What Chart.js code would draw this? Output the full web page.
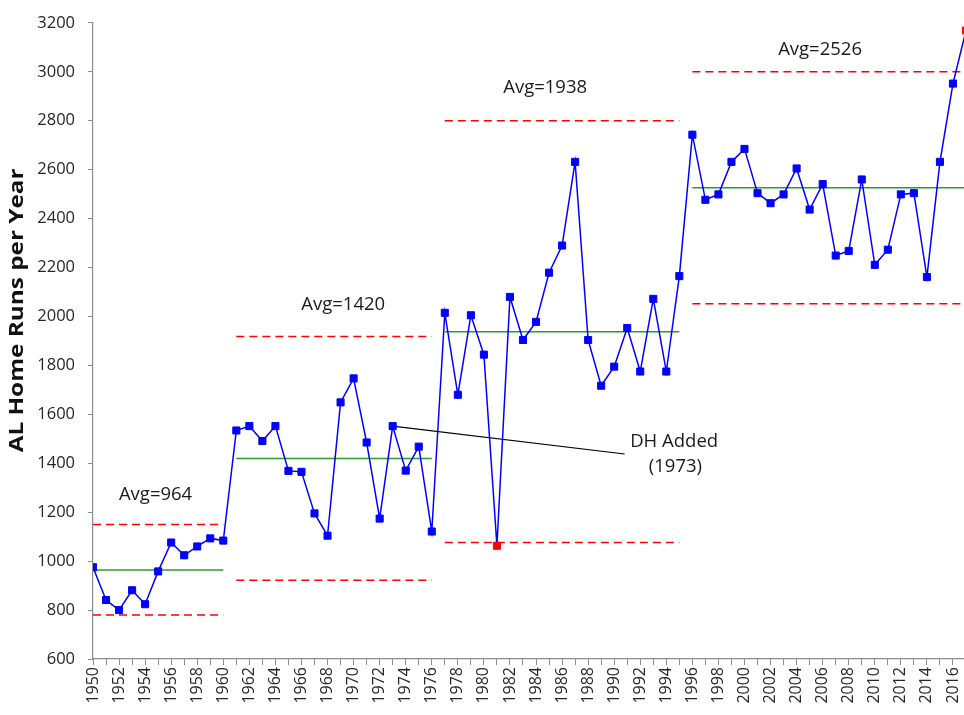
<!DOCTYPE html>
<html>
<head>
<meta charset="utf-8">
<title>AL Home Runs per Year</title>
<script src="https://cdn.jsdelivr.net/npm/chart.js@4.4.0/dist/chart.umd.min.js"></script>
<style>
  html, body { margin: 0; padding: 0; overflow: hidden; background: #fff; }
  #hrChart { display: block; }
</style>
</head>
<body>
<canvas id="hrChart" width="980" height="715"></canvas>
<script>
// years on the x axis
const years = [
  1950, 1951, 1952, 1953, 1954, 1955, 1956, 1957, 1958, 1959,
  1960, 1961, 1962, 1963, 1964, 1965, 1966, 1967, 1968, 1969,
  1970, 1971, 1972, 1973, 1974, 1975, 1976, 1977, 1978, 1979,
  1980, 1981, 1982, 1983, 1984, 1985, 1986, 1987, 1988, 1989,
  1990, 1991, 1992, 1993, 1994, 1995, 1996, 1997, 1998, 1999,
  2000, 2001, 2002, 2003, 2004, 2005, 2006, 2007, 2008, 2009,
  2010, 2011, 2012, 2013, 2014, 2015, 2016, 2017
];

// AL home runs, one per year
const homeRuns = [
  975, 841, 800, 881, 824, 958, 1076, 1024, 1060, 1093,
  1084, 1534, 1552, 1491, 1552, 1369, 1365, 1195, 1104, 1649,
  1747, 1485, 1174, 1552, 1370, 1468, 1121, 2015, 1680, 2005,
  1844, 1063, 2080, 1904, 1978, 2179, 2290, 2632, 1904, 1717,
  1795, 1953, 1775, 2072, 1775, 2165, 2743, 2477, 2499, 2632,
  2685, 2504, 2463, 2499, 2605, 2437, 2541, 2249, 2268, 2560,
  2211, 2273, 2499, 2504, 2161, 2632, 2952, 3169
];

// control chart segments
const segStart = [1950, 1961, 1977, 1996];
const segEnd   = [1960, 1976, 1995, 2017];
const segAvg   = [964, 1420, 1938, 2526];
const segUcl   = [1150, 1918, 2800, 3000];
const segLcl   = [780, 922, 1076, 2052];

const yTicks = [600, 800, 1000, 1200, 1400, 1600, 1800, 2000, 2200, 2400, 2600, 2800, 3000, 3200];
const yTitle = 'AL Home Runs per Year';

// text labels (placed in data units)
const avgLabels     = ['Avg=964', 'Avg=1420', 'Avg=1938', 'Avg=2526'];
const avgLabelYear  = [1954.8, 1969.2, 1984.7, 2005.8];
const avgLabelValue = [1273, 2049, 2933, 3090];
const noteLines     = ['DH Added', '(1973)'];
const noteYear      = [1994.6, 1994.7];
const noteValue     = [1487, 1386];
const noteFromYear  = 1973;
const noteToYear    = 1990.8;
const noteToValue   = 1438;

const FONT = '"Open Sans", "DejaVu Sans", sans-serif';

function segmentOf(year) {
  for (let i = 0; i < segStart.length; i++) {
    if (year >= segStart[i] && year <= segEnd[i]) return i;
  }
  return 0;
}

const pointColors = years.map((yr, i) => {
  const s = segmentOf(yr);
  const v = homeRuns[i];
  return (v > segUcl[s] || v < segLcl[s]) ? '#FF0000' : '#0000FF';
});

const limitSets = [];
segStart.forEach((start, i) => {
  const end = segEnd[i];
  limitSets.push({
    data: [{ x: start, y: segAvg[i] }, { x: end, y: segAvg[i] }],
    borderColor: '#2e9a2e', borderWidth: 1.5, pointRadius: 0, order: 3
  });
  [segUcl[i], segLcl[i]].forEach(v => {
    limitSets.push({
      data: [{ x: start, y: v }, { x: end, y: v }],
      borderColor: '#FF0000', borderWidth: 1.5, borderDash: [8, 5], pointRadius: 0, order: 3
    });
  });
});

const notesPlugin = {
  id: 'notes',
  beforeDatasetsDraw(chart) {
    const { ctx, scales: { x, y } } = chart;
    const i73 = years.indexOf(noteFromYear);
    ctx.save();
    ctx.strokeStyle = '#000';
    ctx.lineWidth = 1.2;
    ctx.beginPath();
    ctx.moveTo(x.getPixelForValue(noteFromYear), y.getPixelForValue(homeRuns[i73]));
    ctx.lineTo(x.getPixelForValue(noteToYear), y.getPixelForValue(noteToValue));
    ctx.stroke();
    ctx.restore();
  },
  afterDatasetsDraw(chart) {
    const { ctx, chartArea, scales: { x, y } } = chart;
    ctx.save();
    ctx.font = '18.5px ' + FONT;
    ctx.fillStyle = '#1a1a1a';
    ctx.textAlign = 'center';
    ctx.textBaseline = 'middle';
    avgLabels.forEach((t, i) => {
      ctx.fillText(t, x.getPixelForValue(avgLabelYear[i]), y.getPixelForValue(avgLabelValue[i]));
    });
    noteLines.forEach((t, i) => {
      ctx.fillText(t, x.getPixelForValue(noteYear[i]), y.getPixelForValue(noteValue[i]));
    });

    // y axis title, a bit above the middle and drawn long like the original
    const ty = chartArea.top + (chartArea.bottom - chartArea.top) * 0.452;
    ctx.translate(18, ty);
    ctx.rotate(-Math.PI / 2);
    ctx.scale(1.28, 1);
    ctx.font = 'bold 19px ' + FONT;
    ctx.fillStyle = '#111';
    ctx.fillText(yTitle, 0, 0);
    ctx.restore();
  }
};

const ctx = document.getElementById('hrChart').getContext('2d');

new Chart(ctx, {
  type: 'line',
  data: {
    datasets: [
      {
        label: 'AL Home Runs',
        data: years.map((yr, i) => ({ x: yr, y: homeRuns[i] })),
        borderColor: '#0000FF',
        borderWidth: 1.5,
        pointStyle: 'rect',
        pointRadius: 5,
        pointBorderWidth: 1,
        pointBackgroundColor: pointColors,
        pointBorderColor: pointColors,
        tension: 0,
        order: 1
      },
      ...limitSets
    ]
  },
  options: {
    responsive: false,
    animation: false,
    layout: { padding: { left: 0, top: 19, right: 14, bottom: 0 } },
    plugins: {
      legend: { display: false },
      tooltip: { enabled: false }
    },
    scales: {
      x: {
        type: 'linear',
        min: 1950,
        max: 2017,
        afterBuildTicks: axis => { axis.ticks = years.map(v => ({ value: v })); },
        afterFit: s => { s.height = 56; s.paddingLeft = 0; s.paddingRight = 0; },
        ticks: {
          autoSkip: false,
          minRotation: 90,
          maxRotation: 90,
          padding: 2,
          color: '#262626',
          font: { family: FONT, size: 16 },
          callback: v => (v % 2 === 0 ? String(v) : '')
        },
        grid: { drawOnChartArea: false, tickLength: 6, color: '#8c8c8c' },
        border: { color: '#8c8c8c', width: 1.2 }
      },
      y: {
        min: 600,
        max: 3200,
        afterBuildTicks: axis => { axis.ticks = yTicks.map(v => ({ value: v })); },
        afterFit: s => { s.width = 93; },
        ticks: {
          padding: 13,
          color: '#262626',
          font: { family: FONT, size: 16.5 },
          callback: v => String(v)
        },
        grid: { drawOnChartArea: false, tickLength: 5, color: '#8c8c8c' },
        border: { color: '#8c8c8c', width: 1.2 }
      }
    }
  },
  plugins: [notesPlugin]
});
</script>
</body>
</html>
